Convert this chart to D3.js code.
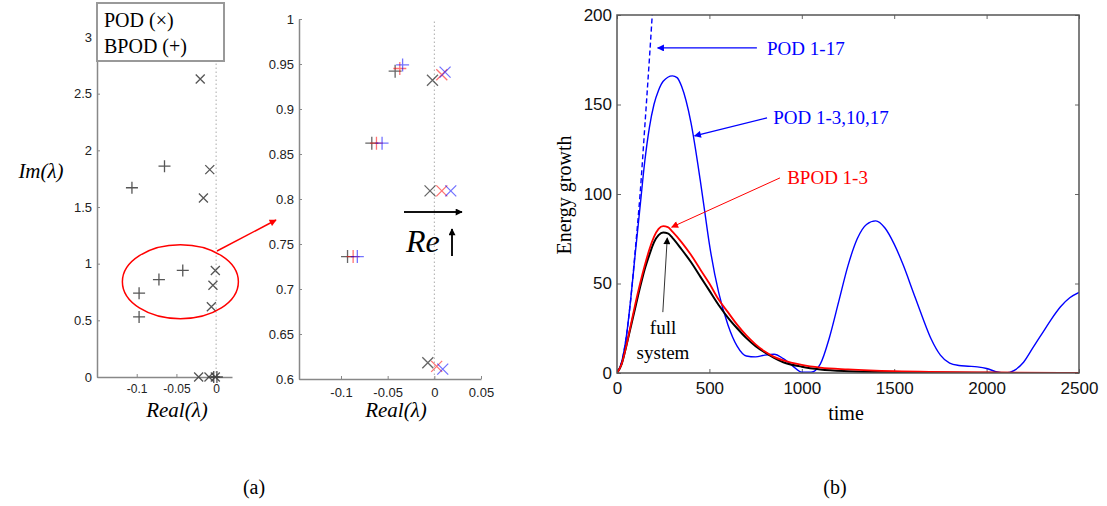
<!DOCTYPE html>
<html>
<head>
<meta charset="utf-8">
<script src="https://cdn.jsdelivr.net/npm/d3@7"></script>
<style>
  body { margin: 0; background: #fff; }
  svg { display: block; }
  .tick text { font-family: "Liberation Sans", Arial, sans-serif; }
</style>
</head>
<body>
<svg id="fig" width="1107" height="506"></svg>
<script>
// ---------- data ----------
// panel (a) left: eigenvalues, full range
var podFull = [[-0.020, 2.63], [-0.008, 1.83], [-0.016, 1.58], [-0.001, 0.94], [-0.004, 0.81],
    [-0.006, 0.62], [-0.022, 0.0], [-0.009, 0.0], [-0.001, 0.0]];
var bpodFull = [[-0.065, 1.86], [-0.106, 1.67], [-0.042, 0.94], [-0.072, 0.86], [-0.097, 0.74],
    [-0.097, 0.53], [-0.003, 0.0], [0.001, 0.0]];
var leftXTicks = [-0.1, -0.05, 0];
var leftYTicks = [0, 0.5, 1, 1.5, 2, 2.5, 3];

// panel (a) zoom: three Reynolds numbers (black, red, blue)
var podZoomBlack = [[-0.002, 0.932], [-0.0046, 0.809], [-0.007, 0.618]];
var podZoomRed = [[0.008, 0.938], [0.008, 0.809], [0.0025, 0.614]];
var podZoomBlue = [[0.0115, 0.941], [0.0176, 0.809], [0.009, 0.611]];
var bpodZoomBlack = [[-0.042, 0.942], [-0.067, 0.862], [-0.093, 0.736]];
var bpodZoomRed = [[-0.037, 0.945], [-0.062, 0.862], [-0.087, 0.736]];
var bpodZoomBlue = [[-0.034, 0.949], [-0.056, 0.862], [-0.0825, 0.736]];
var zoomXTicks = [-0.1, -0.05, 0, 0.05];
var zoomYTicks = [0.6, 0.65, 0.7, 0.75, 0.8, 0.85, 0.9, 0.95, 1];

// panel (b): energy growth vs time
var timeFull = [0, 25, 50, 75, 100, 125, 150, 175, 200, 225, 250, 275, 300, 350, 400, 450, 500, 550,
    600, 650, 700, 750, 800, 850, 900, 1000, 1100, 1250, 1500, 2000, 2500];
var fullSystem = [0, 5, 15, 26, 37, 48, 58, 66, 73, 77, 78.5, 78, 75.5, 69, 62, 54, 46, 38,
    31, 25, 19.5, 15, 11.5, 8.5, 6, 3.5, 2, 1, 0.4, 0.1, 0];
var bpod13 = [0, 5, 15, 27, 39, 50, 60, 69, 76, 80.5, 82, 81.5, 79, 73, 66, 58, 50, 41,
    34, 27, 21, 16, 12, 9, 7, 4.5, 3, 2, 1, 0.3, 0.1];
var timePodA = [0, 25, 50, 75, 100, 125, 150, 175, 200, 225, 250, 300, 325, 350, 400, 450, 475, 500,
    550, 600, 650, 700, 750, 800, 850, 900, 950, 1000, 1050, 1100, 1150, 1200, 1250, 1300, 1350,
    1400, 1450, 1500, 1550, 1600, 1650, 1700, 1750, 1800, 1850, 1900, 1950, 2000, 2050, 2100,
    2150, 2200, 2250, 2300, 2350, 2400, 2450, 2500];
var podSel = [0, 6, 20, 42, 68, 93, 118, 137, 150, 158, 163, 166, 165, 160, 140, 108, 90, 72,
    45, 27, 15, 9.5, 9, 10, 10.5, 8, 4, 0.5, 0.5, 5, 20, 40, 60, 75, 83, 85, 81, 72, 60, 46, 32,
    19, 10, 5.5, 4.2, 3.8, 3.4, 2.5, 0.8, 0, 1.5, 6, 14, 22, 30, 37, 42, 45];
var timePodB = [0, 25, 50, 75, 100, 125, 150, 175, 200];
var pod117 = [0, 6, 20, 42, 70, 100, 137, 175, 215];
var energyXTicks = [0, 500, 1000, 1500, 2000, 2500];
var energyYTicks = [0, 50, 100, 150, 200];

// ---------- setup ----------
var svg = d3.select("#fig");
var serif = "'Liberation Serif', 'DejaVu Serif', serif";
var axisGray = "#888";

var defs = svg.append("defs");
function arrowMarker(id, color) {
    defs.append("marker")
        .attr("id", id)
        .attr("viewBox", "0 0 10 10")
        .attr("refX", 9).attr("refY", 5)
        .attr("markerWidth", 9).attr("markerHeight", 7)
        .attr("markerUnits", "userSpaceOnUse")
        .attr("orient", "auto")
        .append("path")
        .attr("d", "M0,0L10,5L0,10z")
        .attr("fill", color);
}
arrowMarker("ahBlue", "#0000ff");
arrowMarker("ahRed", "#ff0000");
arrowMarker("ahBlack", "#000");

function plusPath(s) { return "M" + (-s) + ",0H" + s + "M0," + (-s) + "V" + s; }
function timesPath(s) { return "M" + (-s) + "," + (-s) + "L" + s + "," + s + "M" + (-s) + "," + s + "L" + s + "," + (-s); }

function drawMarks(g, data, x, y, shape, size, color, opacity) {
    g.selectAll(null)
        .data(data)
        .enter()
        .append("path")
        .attr("transform", function (d) { return "translate(" + x(d[0]) + "," + y(d[1]) + ")"; })
        .attr("d", shape === "+" ? plusPath(size) : timesPath(size))
        .attr("fill", "none")
        .attr("stroke", color)
        .attr("stroke-width", 1.3)
        .attr("opacity", opacity);
}

function styleAxis(g, fontSize) {
    g.select(".domain").attr("stroke", axisGray).attr("stroke-width", 1.5);
    g.selectAll(".tick line").attr("stroke", axisGray);
    g.selectAll(".tick text").attr("fill", "#222").style("font-size", fontSize + "px");
}
var plainFmt = function (d) { return String(d); };

// ---------- panel (a) left ----------
var xL = d3.scaleLinear().domain([-0.15, 0.02]).range([97, 232]);
var yL = d3.scaleLinear().domain([0, 3.3]).range([377, 3]);
var gL = svg.append("g");

gL.append("line")
    .attr("x1", xL(0)).attr("x2", xL(0))
    .attr("y1", yL(0)).attr("y2", 61)
    .attr("stroke", "#aaa").attr("stroke-dasharray", "1.5,2.5");

gL.append("g").attr("transform", "translate(0," + yL(0) + ")")
    .call(d3.axisBottom(xL).tickValues(leftXTicks).tickSizeInner(-3).tickSizeOuter(0)
        .tickFormat(plainFmt).tickPadding(7))
    .call(styleAxis, 12);
gL.append("g").attr("transform", "translate(" + xL.range()[0] + ",0)")
    .call(d3.axisLeft(yL).tickValues(leftYTicks).tickSizeInner(-3).tickSizeOuter(0).tickPadding(5)
        .tickFormat(plainFmt))
    .call(styleAxis, 13);

drawMarks(gL, podFull, xL, yL, "x", 4.5, "#444", 0.9);
drawMarks(gL, bpodFull, xL, yL, "+", 6, "#444", 0.9);

// legend box
gL.append("rect").attr("x", 97).attr("y", 3).attr("width", 127).attr("height", 58)
    .attr("fill", "#fff").attr("stroke", "#999").attr("stroke-width", 2);
gL.append("text").attr("x", 104).attr("y", 27).text("POD (×)")
    .style("font-family", serif).style("font-size", "20px");
gL.append("text").attr("x", 104).attr("y", 53).text("BPOD (+)")
    .style("font-family", serif).style("font-size", "20px");

gL.append("text").attr("x", 41).attr("y", 178).attr("text-anchor", "middle")
    .style("font-family", serif).style("font-style", "italic").style("font-size", "21px")
    .text("Im(λ)");
gL.append("text").attr("x", 177).attr("y", 417).attr("text-anchor", "middle")
    .style("font-family", serif).style("font-style", "italic").style("font-size", "21px")
    .text("Real(λ)");

// ---------- panel (a) zoom ----------
var xZ = d3.scaleLinear().domain([-0.145, 0.05]).range([299, 481]);
var yZ = d3.scaleLinear().domain([0.6, 1]).range([379, 19]);
var gZ = svg.append("g");

gZ.append("line")
    .attr("x1", xZ(0)).attr("x2", xZ(0))
    .attr("y1", yZ(0.6)).attr("y2", yZ(1))
    .attr("stroke", "#aaa").attr("stroke-dasharray", "1.5,2.5");

gZ.append("g").attr("transform", "translate(0," + yZ(0.6) + ")")
    .call(d3.axisBottom(xZ).tickValues(zoomXTicks).tickSizeInner(-3).tickSizeOuter(0)
        .tickFormat(plainFmt).tickPadding(9))
    .call(styleAxis, 13);
gZ.append("g").attr("transform", "translate(" + xZ.range()[0] + ",0)")
    .call(d3.axisLeft(yZ).tickValues(zoomYTicks).tickSizeInner(-3).tickSizeOuter(0).tickPadding(5)
        .tickFormat(plainFmt))
    .call(styleAxis, 13);

drawMarks(gZ, podZoomBlack, xZ, yZ, "x", 5.5, "#333", 0.75);
drawMarks(gZ, bpodZoomBlack, xZ, yZ, "+", 6.5, "#333", 0.75);
drawMarks(gZ, podZoomRed, xZ, yZ, "x", 5.5, "#ff0000", 0.55);
drawMarks(gZ, bpodZoomRed, xZ, yZ, "+", 6.5, "#ff0000", 0.55);
drawMarks(gZ, podZoomBlue, xZ, yZ, "x", 5.5, "#0000ff", 0.55);
drawMarks(gZ, bpodZoomBlue, xZ, yZ, "+", 6.5, "#0000ff", 0.55);

// "Re" increasing arrows
gZ.append("line").attr("x1", 404).attr("y1", 212).attr("x2", 462).attr("y2", 212)
    .attr("stroke", "#111").attr("stroke-width", 2).attr("marker-end", "url(#ahBlack)");
gZ.append("text").attr("x", 406).attr("y", 252)
    .style("font-family", serif).style("font-style", "italic").style("font-size", "32px")
    .text("Re");
gZ.append("line").attr("x1", 452).attr("y1", 256).attr("x2", 452).attr("y2", 229)
    .attr("stroke", "#111").attr("stroke-width", 2).attr("marker-end", "url(#ahBlack)");

gZ.append("text").attr("x", 396).attr("y", 417).attr("text-anchor", "middle")
    .style("font-family", serif).style("font-style", "italic").style("font-size", "21px")
    .text("Real(λ)");

// zoom ellipse + arrow linking the panels
svg.append("ellipse").attr("cx", xL(-0.045)).attr("cy", yL(0.84)).attr("rx", 58).attr("ry", 37)
    .attr("fill", "none").attr("stroke", "#ff0000").attr("stroke-width", 1.5);
svg.append("line").attr("x1", 217).attr("y1", 251).attr("x2", 276).attr("y2", 220)
    .attr("stroke", "#ff0000").attr("stroke-width", 1.5).attr("marker-end", "url(#ahRed)");

// ---------- panel (b) ----------
var xE = d3.scaleLinear().domain([0, 2500]).range([617, 1079]);
var yE = d3.scaleLinear().domain([0, 200]).range([373, 15]);
var gE = svg.append("g");

defs.append("clipPath").attr("id", "clipE").append("rect")
    .attr("x", 617).attr("y", 15).attr("width", 462).attr("height", 358);

function energyAxis(g, fontSize) {
    g.select(".domain").remove();
    g.selectAll(".tick line").attr("stroke", "#666");
    g.selectAll(".tick text").attr("fill", "#111").style("font-size", fontSize + "px");
}
gE.append("g").attr("transform", "translate(0," + yE(0) + ")")
    .call(d3.axisBottom(xE).tickValues(energyXTicks).tickSizeInner(-4).tickSizeOuter(0).tickPadding(9)
        .tickFormat(plainFmt))
    .call(energyAxis, 17);
gE.append("g").attr("transform", "translate(0," + yE(200) + ")")
    .call(d3.axisTop(xE).tickValues(energyXTicks).tickSizeInner(-4).tickSizeOuter(0).tickFormat(""))
    .call(energyAxis, 17);
gE.append("g").attr("transform", "translate(" + xE(0) + ",0)")
    .call(d3.axisLeft(yE).tickValues(energyYTicks).tickSizeInner(-4).tickSizeOuter(0).tickPadding(5)
        .tickFormat(plainFmt))
    .call(energyAxis, 17);
gE.append("g").attr("transform", "translate(" + xE(2500) + ",0)")
    .call(d3.axisRight(yE).tickValues(energyYTicks).tickSizeInner(-4).tickSizeOuter(0).tickFormat(""))
    .call(energyAxis, 17);

var line = d3.line().curve(d3.curveMonotoneX)
    .x(function (d) { return xE(d[0]); })
    .y(function (d) { return yE(d[1]); });
function pairs(ts, vs) { return ts.map(function (t, i) { return [t, vs[i]]; }); }

var curves = gE.append("g").attr("clip-path", "url(#clipE)");
curves.append("path").attr("d", line(pairs(timePodA, podSel)))
    .attr("fill", "none").attr("stroke", "#0000ff").attr("stroke-width", 1.4);
curves.append("path").attr("d", line(pairs(timePodB, pod117)))
    .attr("fill", "none").attr("stroke", "#0000ff").attr("stroke-width", 1.4)
    .attr("stroke-dasharray", "5,3");
curves.append("path").attr("d", line(pairs(timeFull, fullSystem)))
    .attr("fill", "none").attr("stroke", "#000").attr("stroke-width", 2);
curves.append("path").attr("d", line(pairs(timeFull, bpod13)))
    .attr("fill", "none").attr("stroke", "#ff0000").attr("stroke-width", 1.8);

// frame
gE.append("rect").attr("x", 617).attr("y", 15).attr("width", 462).attr("height", 358)
    .attr("fill", "none").attr("stroke", "#555").attr("stroke-width", 1.5);

// annotations
function annotate(from, to, marker, color, width) {
    gE.append("line")
        .attr("x1", xE(from[0])).attr("y1", yE(from[1]))
        .attr("x2", xE(to[0])).attr("y2", yE(to[1]))
        .attr("stroke", color).attr("stroke-width", width)
        .attr("marker-end", "url(#" + marker + ")");
}
function label(pos, txt, color, anchor) {
    gE.append("text").attr("x", xE(pos[0])).attr("y", yE(pos[1]))
        .attr("text-anchor", anchor || "start").attr("fill", color)
        .style("font-family", serif).style("font-size", "19px").text(txt);
}
annotate([757, 181.6], [220, 181.6], "ahBlue", "#0000ff", 1.3);
label([812, 177.5], "POD 1-17", "#0000ff");
annotate([812, 142.5], [420, 132.5], "ahBlue", "#0000ff", 1.3);
label([845, 139], "POD 1-3,10,17", "#0000ff");
annotate([882, 109], [296, 81.5], "ahRed", "#ff0000", 1);
label([921, 105.5], "BPOD 1-3", "#ff0000");
annotate([248, 34], [272, 75.5], "ahBlack", "#333", 1);
label([249, 22], "full", "#000", "middle");
label([249, 8], "system", "#000", "middle");

gE.append("text").attr("transform", "translate(571,195) rotate(-90)").attr("text-anchor", "middle")
    .style("font-family", serif).style("font-size", "20px").text("Energy growth");
gE.append("text").attr("x", 846).attr("y", 420).attr("text-anchor", "middle")
    .style("font-family", serif).style("font-size", "20px").text("time");

// sub-figure labels
svg.append("text").attr("x", 254).attr("y", 494).attr("text-anchor", "middle")
    .style("font-family", serif).style("font-size", "20px").text("(a)");
svg.append("text").attr("x", 835).attr("y", 494).attr("text-anchor", "middle")
    .style("font-family", serif).style("font-size", "20px").text("(b)");
</script>
</body>
</html>
